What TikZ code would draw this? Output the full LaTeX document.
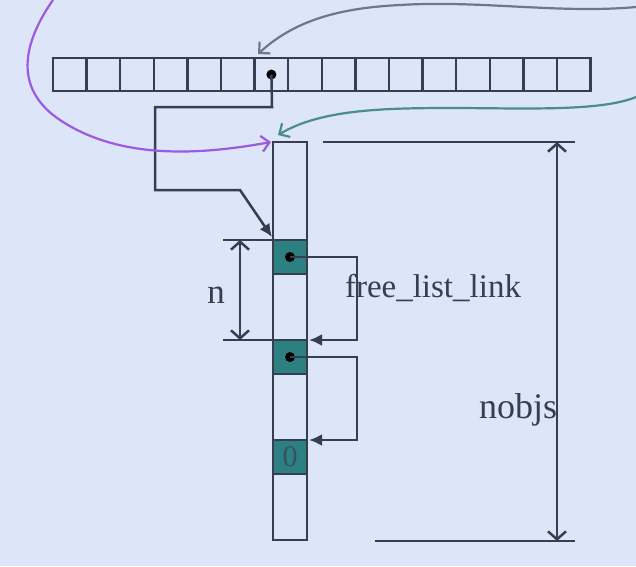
\documentclass[tikz,border=0pt]{standalone}
\usepackage{fontspec}
\setmainfont{Liberation Serif}
\usetikzlibrary{arrows.meta}
\definecolor{bg}{RGB}{220,230,248}
\definecolor{ink}{RGB}{55,62,80}
\definecolor{tealc}{RGB}{45,128,130}
\definecolor{purp}{RGB}{155,90,225}
\definecolor{grayc}{RGB}{105,122,140}
\definecolor{tealline}{RGB}{75,140,140}
\tikzset{
  cellbox/.style={draw=ink,line width=2.5pt,minimum width=33.6pt,minimum height=33pt,inner sep=0pt,outer sep=0pt},
  slotbox/.style={draw=ink,fill=tealc,line width=2.5pt,minimum width=34pt,minimum height=34pt,inner sep=0pt,outer sep=0pt},
  ptr/.style={draw=ink,line width=2.5pt,-{Latex[length=13pt,width=12pt]}},
  dimline/.style={draw=ink,line width=2.5pt},
  dimarrow/.style={draw=ink,line width=2.5pt,{Straight Barb[length=8pt,width=18pt]}-{Straight Barb[length=8pt,width=18pt]}},
  curvearrow/.style={line width=2.2pt,-{Straight Barb[length=8pt,width=16pt]}},
  dotmark/.style={circle,fill=black,inner sep=0pt,minimum size=10pt},
  lbl/.style={text=ink,inner sep=0pt}
}
\begin{document}
\begin{tikzpicture}[x=1pt,y=-1pt]
\fill[bg] (0,0) rectangle (636,566);
\useasboundingbox (0,0) rectangle (636,566);
% array
\foreach \i in {1,...,16} {
  \node[cellbox] (c\i) at ({53+33.6*(\i-0.5)},74.5) {};
}
\node[dotmark] (d0) at (c7.center) {};
% column
\node[draw=ink,line width=2.5pt,minimum width=34pt,minimum height=398pt,inner sep=0pt,outer sep=0pt] (col) at (290,341) {};
\node[slotbox] (s1) at (290,257) {};
\node[slotbox] (s2) at (290,357) {};
\node[slotbox,font=\fontsize{30}{30}\selectfont,text=ink!70!tealc] (s3) at (290,457) {0};
\node[dotmark] (d1) at (s1.center) {};
\node[dotmark] (d2) at (s2.center) {};
% pointer from array cell to column
\coordinate (p1) at (272,107);
\coordinate (p2) at (155,107);
\coordinate (p3) at (155,190);
\coordinate (p4) at (240,190);
\coordinate (p5) at (272,237);
\draw[ptr] (d0.center) -- (p1) -- (p2) -- (p3) -- (p4) -- (p5);
% free list links
\coordinate (l1) at (357,257);
\coordinate (l1t) at (309,340);
\draw[ptr] (d1.center) -- (l1) |- (l1t);
\coordinate (l2) at (357,357);
\coordinate (l2t) at (309,440);
\draw[ptr] (d2.center) -- (l2) |- (l2t);
% n dimension
\coordinate (n1) at (223,240);
\coordinate (n2) at (223,340);
\coordinate (na) at (240,240);
\coordinate (nb) at (240,340);
\draw[dimline] (n1) -- (s1.north west);
\draw[dimline] (n2) -- (s2.north west);
\draw[dimarrow] (na) -- (nb);
\node[lbl,font=\fontsize{35}{35}\selectfont] (nlab) at (216,295) {n};
% nobjs dimension
\coordinate (m1) at (323,142);
\coordinate (m2) at (575,142);
\coordinate (m3) at (375,541);
\coordinate (m4) at (575,541);
\coordinate (ma) at (557,142);
\coordinate (mb) at (557,541);
\draw[dimline] (m1) -- (m2);
\draw[dimline] (m3) -- (m4);
\draw[dimarrow] (ma) -- (mb);
\node[lbl,font=\fontsize{36}{36}\selectfont] (nobjs) at (518,410) {nobjs};
\node[lbl,font=\fontsize{33}{33}\selectfont] (fll) at (433,288) {free\_list\_link};
% curves
\coordinate (g0) at (636,7);
\coordinate (g1) at (258,54);
\draw[curvearrow,draw=grayc] (g0) .. controls (560,14) and (480,0) .. (400,5) .. controls (340,8) and (295,20) .. (g1);
\coordinate (t0) at (636,97);
\coordinate (t1) at (278,135);
\draw[curvearrow,draw=tealline] (t0) .. controls (600,112) and (520,108) .. (450,108) .. controls (380,108) and (320,110) .. (t1);
\coordinate (q0) at (53,0);
\coordinate (q1) at (271,142);
\draw[curvearrow,draw=purp] (q0) .. controls (18,50) and (18,92) .. (60,120) .. controls (120,160) and (200,155) .. (q1);
\end{tikzpicture}
\end{document}
